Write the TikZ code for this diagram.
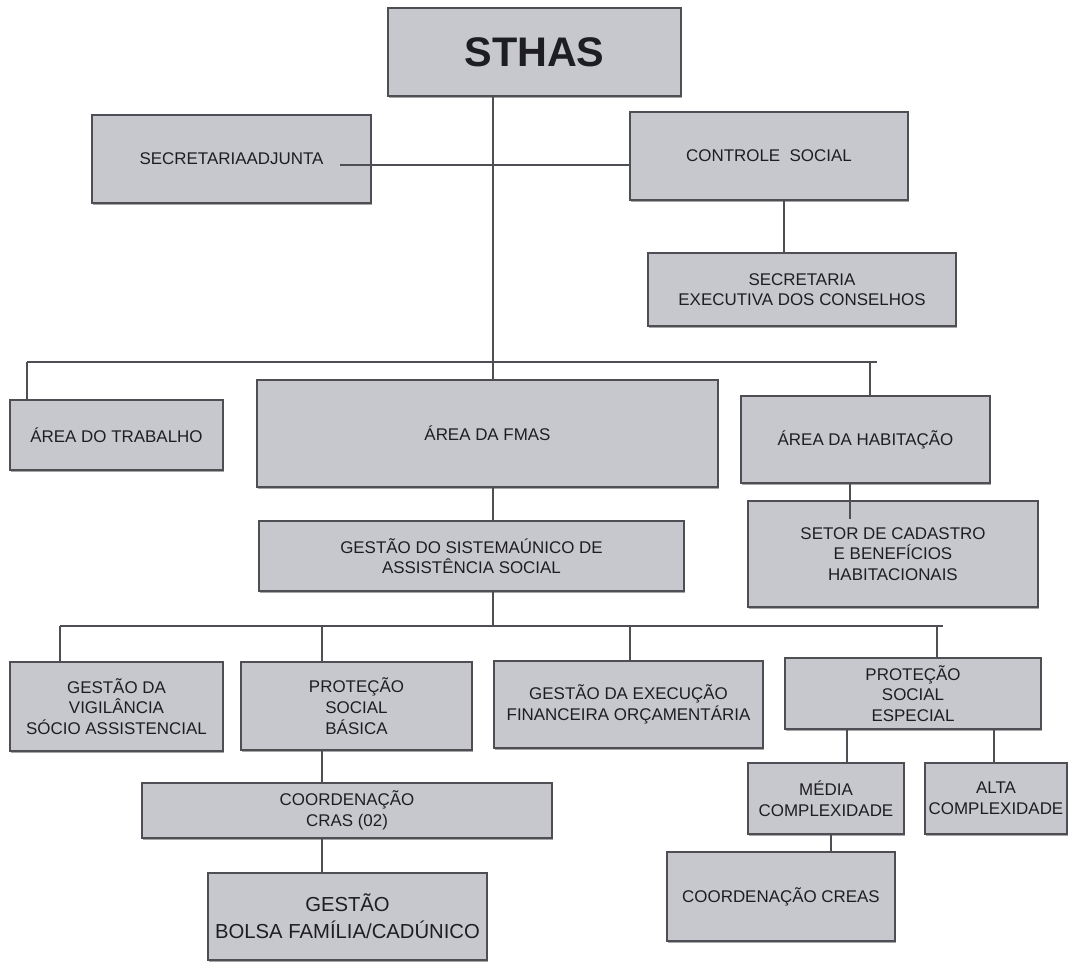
\documentclass[tikz,border=0pt]{standalone}
\usepackage{fontspec}
\setmainfont{Liberation Sans}
\usepackage{xcolor}
\usetikzlibrary{calc,shadows}

\definecolor{boxfill}{RGB}{199,199,206}
\definecolor{boxline}{RGB}{78,78,84}
\definecolor{ink}{RGB}{30,30,34}

\tikzset{
  unit/.style={draw=boxline, fill=boxfill, line width=1.1pt, text=ink, align=center,
    inner sep=2pt, font=\fontsize{12.7}{15.5}\selectfont,
    drop shadow={shadow xshift=0.5pt, shadow yshift=-1.2pt, fill=black, opacity=0.35}},
  boxsize/.style 2 args={minimum width=#1*0.75pt, minimum height=#2*0.75pt},
  link/.style={draw=boxline, line width=0.9pt}
}

\begin{document}
\begin{tikzpicture}[x=0.75pt, y=-0.75pt]
  \useasboundingbox (0,0) rectangle (1070,961);

  % top
  \node[unit, boxsize={293}{88}, font=\fontsize{31}{31}\selectfont\bfseries] (sthas) at (534.5,52) {STHAS};
  \node[unit, boxsize={279}{88}] (adj) at (231.5,159) {SECRETARIAADJUNTA};
  \node[unit, boxsize={278}{88}] (cs) at (769,156) {CONTROLE \ SOCIAL};
  \node[unit, boxsize={308}{73}] (sec) at (802,289.5) {SECRETARIA\\EXECUTIVA DOS CONSELHOS};

  % areas
  \node[unit, boxsize={213}{70}] (trab) at (116.5,435) {ÁREA DO TRABALHO};
  \node[unit, boxsize={461}{107}] (fmas) at (487.5,433.5) {ÁREA DA FMAS};
  \node[unit, boxsize={249}{87}] (hab) at (865.5,439.5) {ÁREA DA HABITAÇÃO};
  \node[unit, boxsize={290}{106}] (setor) at (893,554) {SETOR DE CADASTRO\\E BENEFÍCIOS\\HABITACIONAIS};
  \node[unit, boxsize={425}{70}] (suas) at (471.5,556) {GESTÃO DO SISTEMAÚNICO DE\\ASSISTÊNCIA SOCIAL};

  % suas
  \node[unit, boxsize={213}{89}] (vig) at (116.5,706.5) {GESTÃO DA\\VIGILÂNCIA\\SÓCIO ASSISTENCIAL};
  \node[unit, boxsize={231}{88}] (psb) at (356.5,706) {PROTEÇÃO\\SOCIAL\\BÁSICA};
  \node[unit, boxsize={269}{87}] (gex) at (628.5,704.5) {GESTÃO DA EXECUÇÃO\\FINANCEIRA ORÇAMENTÁRIA};
  \node[unit, boxsize={256}{71}] (pse) at (913,693.5) {PROTEÇÃO\\SOCIAL\\ESPECIAL};
  \node[unit, boxsize={410}{55}] (cras) at (347,810.5) {COORDENAÇÃO\\CRAS (02)};
  \node[unit, boxsize={279}{87}, font=\fontsize{15.2}{20}\selectfont] (bolsa) at (347.5,916.5) {GESTÃO\\BOLSA FAMÍLIA/CADÚNICO};
  \node[unit, boxsize={156}{71}] (media) at (826,798.5) {MÉDIA\\COMPLEXIDADE};
  \node[unit, boxsize={142}{71}] (alta) at (996,798.5) {ALTA\\COMPLEXIDADE};
  \node[unit, boxsize={228}{89}] (creas) at (781,896.5) {COORDENAÇÃO CREAS};

  % connectors
  \coordinate (m) at (493,362);
  \coordinate (tl) at (27,362);
  \coordinate (tr) at (877,362);
  \coordinate (th) at (870,362);
  \coordinate (ae) at (340,165);
  \coordinate (n) at (493,626);
  \coordinate (bl) at (60,626);
  \coordinate (br) at (943,626);
  \coordinate (bp) at (322,626);
  \coordinate (bg) at (630,626);
  \coordinate (bs) at (937,626);

  \draw[link] (sthas.south -| m) -- (fmas.north -| m);
  \draw[link] (ae) -- (ae -| cs.west);
  \draw[link] (cs.south -| 784,0) -- (sec.north -| 784,0);
  \draw[link] (tl) -- (tr);
  \draw[link] (tl) -- (trab.north -| tl);
  \draw[link] (th) -- (hab.north -| th);
  \draw[link] (hab.south -| 850,0) -- ($(setor.north -| 850,0)+(0,19)$);
  \draw[link] (fmas.south -| m) -- (suas.north -| m);
  \draw[link] (suas.south -| m) -- (n);
  \draw[link] (bl) -- (br);
  \draw[link] (bl) -- (vig.north -| bl);
  \draw[link] (bp) -- (psb.north -| bp);
  \draw[link] (bg) -- (gex.north -| bg);
  \draw[link] (bs) -- (pse.north -| bs);
  \draw[link] (psb.south -| bp) -- (cras.north -| bp);
  \draw[link] (cras.south -| bp) -- (bolsa.north -| bp);
  \draw[link] (pse.south -| 847,0) -- (media.north -| 847,0);
  \draw[link] (pse.south -| 994,0) -- (alta.north -| 994,0);
  \draw[link] (media.south -| 831,0) -- (creas.north -| 831,0);
\end{tikzpicture}
\end{document}
